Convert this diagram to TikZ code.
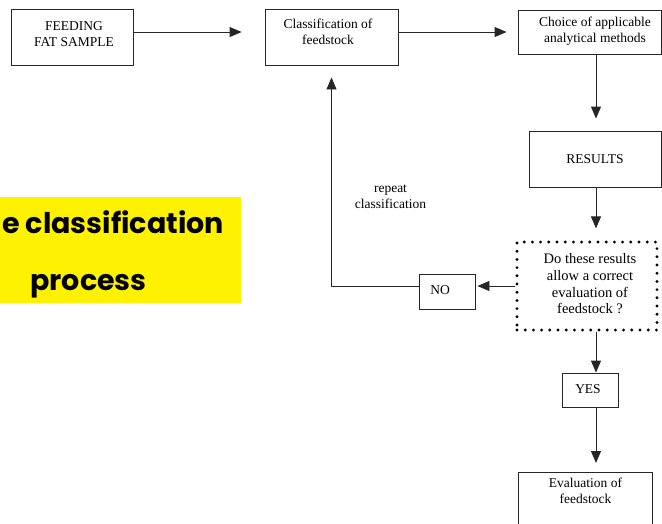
\documentclass[tikz,border=0pt]{standalone}
\usepackage{fontspec}
\setmainfont{Liberation Serif}
\newfontfamily\yfont{Poppins}
\usetikzlibrary{arrows.meta,calc}
\begin{document}
\begin{tikzpicture}[x=1pt,y=-1pt,
  box/.style={draw=black!85, line width=0.9pt, inner sep=0pt, rectangle},
  dotbox/.style={draw=black, line width=3.2pt, dash pattern=on 0pt off 8.2pt, line cap=round, inner sep=0pt, rectangle},
  txt/.style={font=\fontsize{13.5}{16}\selectfont, align=center, inner sep=0pt},
  ytxt/.style={font=\yfont\bfseries\fontsize{28.5}{32}\selectfont, inner sep=0pt},
  arr/.style={draw=black!85, line width=0.9pt, -{Triangle[length=12pt,width=10pt]}}]
\useasboundingbox (0,0) rectangle (662,523);
\begin{scope}
\clip (0,0) rectangle (662,523);
% yellow label
\node[fill=yellow, inner sep=0pt, minimum width=241pt, minimum height=106pt, anchor=north west] (yel) at (0,197) {};
\node[ytxt, anchor=base east] (ytext1) at (224,233) {e classification};
\node[ytxt, anchor=base] (ytext2) at (88.5,290) {process};
% boxes
\node[box, minimum width=122pt, minimum height=56pt] (feed) at (72,37.5) {};
\node[txt] (feedt) at (74,34) {FEEDING\\FAT SAMPLE};
\node[box, minimum width=133pt, minimum height=56pt] (class) at (331.5,37) {};
\node[txt] (classt) at (328,32) {Classification of\\feedstock};
\node[box, minimum width=143pt, minimum height=44pt] (choice) at (589.5,32) {};
\node[txt] (choicet) at (595,31) {Choice of applicable\\analytical methods};
\node[box, minimum width=132pt, minimum height=56pt] (results) at (595,159) {};
\node[txt] (resultst) at (595,159) {RESULTS};
\node[dotbox, minimum width=140pt, minimum height=88pt] (question) at (587,286) {};
\node[txt, font=\fontsize{14.5}{16.7}\selectfont] (questiont) at (590,284) {Do these results\\allow a correct\\evaluation of\\feedstock ?};
\node[box, minimum width=56pt, minimum height=35pt] (no) at (447,291.5) {};
\node[txt] (not) at (440,290) {NO};
\node[box, minimum width=56pt, minimum height=34pt] (yes) at (590,390) {};
\node[txt] (yest) at (588,389) {YES};
\node[box, minimum width=134pt, minimum height=80pt, anchor=north] (eval) at (585,472) {};
\node[txt] (evalt) at (585.5,491) {Evaluation of\\feedstock};
\node[txt, font=\fontsize{13.5}{16}\selectfont] (rep) at (390.5,197) {repeat\\classification};
% helper coordinates
\coordinate (toprow) at (0,32);
\coordinate (norow) at (0,286);
\coordinate (spine) at (596,0);
% connectors
\draw[arr] (feed.east |- toprow) -- ($(class.west |- toprow)+(-23,0)$);
\draw[arr] (class.east |- toprow) -- ($(choice.west |- toprow)+(-11,0)$);
\draw[arr] (spine |- choice.south) -- ($(spine |- results.north)+(0,-12)$);
\draw[arr] (spine |- results.south) -- ($(spine |- question.north)+(0,-12)$);
\draw[arr] (question.west |- norow) -- ($(no.east |- norow)+(2,0)$);
\draw[arr] (spine |- question.south) -- (spine |- yes.north);
\draw[arr] (spine |- yes.south) -- ($(spine |- eval.north)+(0,-9)$);
\draw[arr] (no.west |- norow) -- (class.south |- norow) -- ($(class.south)+(0,12)$);
\end{scope}
\end{tikzpicture}
\end{document}
